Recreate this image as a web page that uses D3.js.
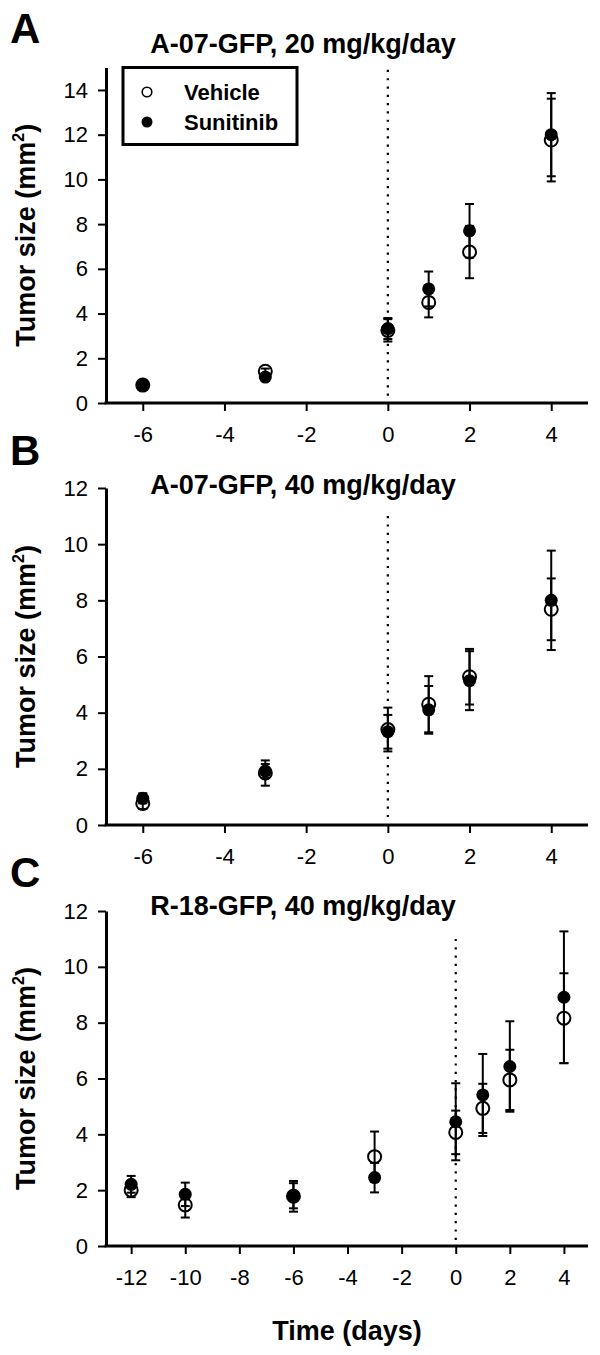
<!DOCTYPE html>
<html>
<head>
<meta charset="utf-8">
<script src="https://cdn.jsdelivr.net/npm/d3@7"></script>
<style>
  html, body { margin: 0; padding: 0; background: #fff; }
  svg { display: block; font-family: "Liberation Sans", Arial, sans-serif; }
</style>
</head>
<body>
<svg id="chart" width="600" height="1355"></svg>
<script>
// ---- Data ----
const seriesNames = ["Vehicle", "Sunitinib"];

const daysAB = [-6, -3, 0, 1, 2, 4];
const aVehicle = [0.80, 1.42, 3.25, 4.50, 6.75, 11.76];
const aVehicleErr = [0.12, 0.12, 0.50, 0.67, 1.17, 1.85];
const aSunitinib = [0.82, 1.16, 3.33, 5.10, 7.70, 12.00];
const aSunitinibErr = [0.12, 0.12, 0.47, 0.78, 1.20, 1.86];

const bVehicle = [0.77, 1.85, 3.40, 4.30, 5.28, 7.68];
const bVehicleErr = [0.20, 0.45, 0.78, 1.00, 0.99, 1.10];
const bSunitinib = [0.95, 1.92, 3.32, 4.10, 5.14, 8.00];
const bSunitinibErr = [0.18, 0.25, 0.60, 0.85, 1.05, 1.77];

const daysC = [-12, -10, -6, -3, 0, 1, 2, 4];
const cVehicle = [2.00, 1.47, 1.78, 3.20, 4.07, 4.93, 5.95, 8.16];
const cVehicleErr = [0.25, 0.45, 0.55, 0.90, 0.78, 0.88, 1.08, 1.61];
const cSunitinib = [2.21, 1.85, 1.80, 2.45, 4.45, 5.41, 6.43, 8.91];
const cSunitinibErr = [0.30, 0.42, 0.45, 0.53, 1.38, 1.47, 1.62, 2.36];

const ticksYA = [0, 2, 4, 6, 8, 10, 12, 14];
const ticksYBC = [0, 2, 4, 6, 8, 10, 12];
const ticksXAB = [-6, -4, -2, 0, 2, 4];
const ticksXC = [-12, -10, -8, -6, -4, -2, 0, 2, 4];

const panelLetters = ["A", "B", "C"];
const panelTitles = ["A-07-GFP, 20 mg/kg/day", "A-07-GFP, 40 mg/kg/day", "R-18-GFP, 40 mg/kg/day"];
const xLabel = "Time (days)";

// ---- Drawing ----
const svg = d3.select("#chart");
const FONT = '"Liberation Sans", Arial, sans-serif';
const fmt = d => String(d);  // plain hyphen-minus as in the reference

const panels = [
  { letter: panelLetters[0], title: panelTitles[0], days: daysAB,
    veh: aVehicle, vehErr: aVehicleErr, sun: aSunitinib, sunErr: aSunitinibErr,
    xDomain: [-6.9, 4.9], yDomain: [0, 15], yRange: [403, 67.6],
    xTicks: ticksXAB, yTicks: ticksYA, dotTop: 14.9, dotBottom: 0.25,
    letterY: 43, titleY: 53, legend: true },
  { letter: panelLetters[1], title: panelTitles[1], days: daysAB,
    veh: bVehicle, vehErr: bVehicleErr, sun: bSunitinib, sunErr: bSunitinibErr,
    xDomain: [-6.9, 4.9], yDomain: [0, 12], yRange: [825, 488],
    xTicks: ticksXAB, yTicks: ticksYBC, dotTop: 11.0, dotBottom: 0.25,
    letterY: 465, titleY: 494, legend: false },
  { letter: panelLetters[2], title: panelTitles[2], days: daysC,
    veh: cVehicle, vehErr: cVehicleErr, sun: cSunitinib, sunErr: cSunitinibErr,
    xDomain: [-12.93, 4.89], yDomain: [0, 12], yRange: [1246, 911],
    xTicks: ticksXC, yTicks: ticksYBC, dotTop: 11.0, dotBottom: 0.2,
    letterY: 887, titleY: 915, legend: false }
];

const xRange = [106, 588];
const R = 6.5;
const CAP = 4.5;

panels.forEach((p, pi) => {
  const g = svg.append("g");
  const x = d3.scaleLinear().domain(p.xDomain).range(xRange);
  const y = d3.scaleLinear().domain(p.yDomain).range(p.yRange);

  // panel letter
  g.append("text").attr("x", 10).attr("y", p.letterY)
    .attr("font-family", FONT).attr("font-weight", "bold").attr("font-size", 42)
    .text(p.letter);

  // title
  g.append("text").attr("x", 303).attr("y", p.titleY)
    .attr("text-anchor", "middle")
    .attr("font-family", FONT).attr("font-weight", "bold").attr("font-size", 27)
    .text(p.title);

  // axes
  const xAxis = d3.axisBottom(x).tickValues(p.xTicks).tickSize(8).tickSizeOuter(0).tickPadding(15)
    .tickFormat(fmt);
  const yAxis = d3.axisLeft(y).tickValues(p.yTicks).tickSize(8).tickSizeOuter(0).tickPadding(10)
    .tickFormat(fmt);

  const gx = g.append("g").attr("transform", `translate(0,${p.yRange[0]})`).call(xAxis);
  const gy = g.append("g").attr("transform", `translate(${xRange[0]},0)`).call(yAxis);
  [gx, gy].forEach(a => {
    a.select(".domain").attr("stroke", "#000").attr("stroke-width", 3);
    a.selectAll(".tick line").attr("stroke", "#000").attr("stroke-width", 2);
    a.selectAll(".tick text").attr("font-family", FONT).attr("font-size", 22).attr("fill", "#000");
  });
  gx.select(".domain").attr("d", `M${xRange[0] - 1.5},0H${xRange[1]}`);

  // y label
  const yl = g.append("text")
    .attr("transform", `translate(35,${(p.yRange[0] + p.yRange[1]) / 2}) rotate(-90)`)
    .attr("text-anchor", "middle")
    .attr("font-family", FONT).attr("font-weight", "bold").attr("font-size", 27);
  yl.append("tspan").text("Tumor size (mm");
  yl.append("tspan").attr("font-size", 16).attr("dy", -11).text("2");
  yl.append("tspan").attr("dy", 11).text(")");

  // dotted line at day 0
  g.append("line")
    .attr("x1", x(0)).attr("x2", x(0))
    .attr("y1", y(p.dotTop)).attr("y2", y(p.dotBottom))
    .attr("stroke", "#000").attr("stroke-width", 2.2)
    .attr("stroke-dasharray", "2.2,6.1");

  const rows = p.days.map((d, i) => ({ d, veh: p.veh[i], vehErr: p.vehErr[i], sun: p.sun[i], sunErr: p.sunErr[i] }));

  // vehicle (open) circles
  g.selectAll(".veh").data(rows).join("circle")
    .attr("cx", r => x(r.d)).attr("cy", r => y(r.veh)).attr("r", R)
    .attr("fill", "#fff").attr("stroke", "#000").attr("stroke-width", 2);

  // error bars for both series
  const bars = [];
  rows.forEach(r => {
    bars.push({ d: r.d, v: r.veh, e: r.vehErr });
    bars.push({ d: r.d, v: r.sun, e: r.sunErr });
  });
  const eb = g.append("g").attr("stroke", "#000").attr("stroke-width", 2);
  bars.forEach(b => {
    eb.append("line").attr("x1", x(b.d)).attr("x2", x(b.d))
      .attr("y1", y(b.v + b.e)).attr("y2", y(b.v - b.e));
    eb.append("line").attr("x1", x(b.d) - CAP).attr("x2", x(b.d) + CAP)
      .attr("y1", y(b.v + b.e)).attr("y2", y(b.v + b.e));
    eb.append("line").attr("x1", x(b.d) - CAP).attr("x2", x(b.d) + CAP)
      .attr("y1", y(b.v - b.e)).attr("y2", y(b.v - b.e));
  });

  // sunitinib (filled) circles
  g.selectAll(".sun").data(rows).join("circle")
    .attr("cx", r => x(r.d)).attr("cy", r => y(r.sun)).attr("r", R)
    .attr("fill", "#000");

  // legend
  if (p.legend) {
    const lg = g.append("g");
    lg.append("rect").attr("x", 123).attr("y", 67.5).attr("width", 174).attr("height", 77)
      .attr("fill", "#fff").attr("stroke", "#000").attr("stroke-width", 3);
    seriesNames.forEach((name, i) => {
      const cy = 92 + i * 30;
      lg.append("circle").attr("cx", 147).attr("cy", cy).attr("r", i === 0 ? 4.8 : 5.5)
        .attr("fill", i === 0 ? "#fff" : "#000").attr("stroke", "#000").attr("stroke-width", i === 0 ? 1.6 : 0);
      lg.append("text").attr("x", 184).attr("y", cy + 7.5)
        .attr("font-family", FONT).attr("font-weight", "bold").attr("font-size", 22)
        .text(name);
    });
  }

  // x label only under last panel
  if (pi === panels.length - 1) {
    g.append("text").attr("x", 347).attr("y", 1340)
      .attr("text-anchor", "middle")
      .attr("font-family", FONT).attr("font-weight", "bold").attr("font-size", 27)
      .text(xLabel);
  }
});
</script>
</body>
</html>
